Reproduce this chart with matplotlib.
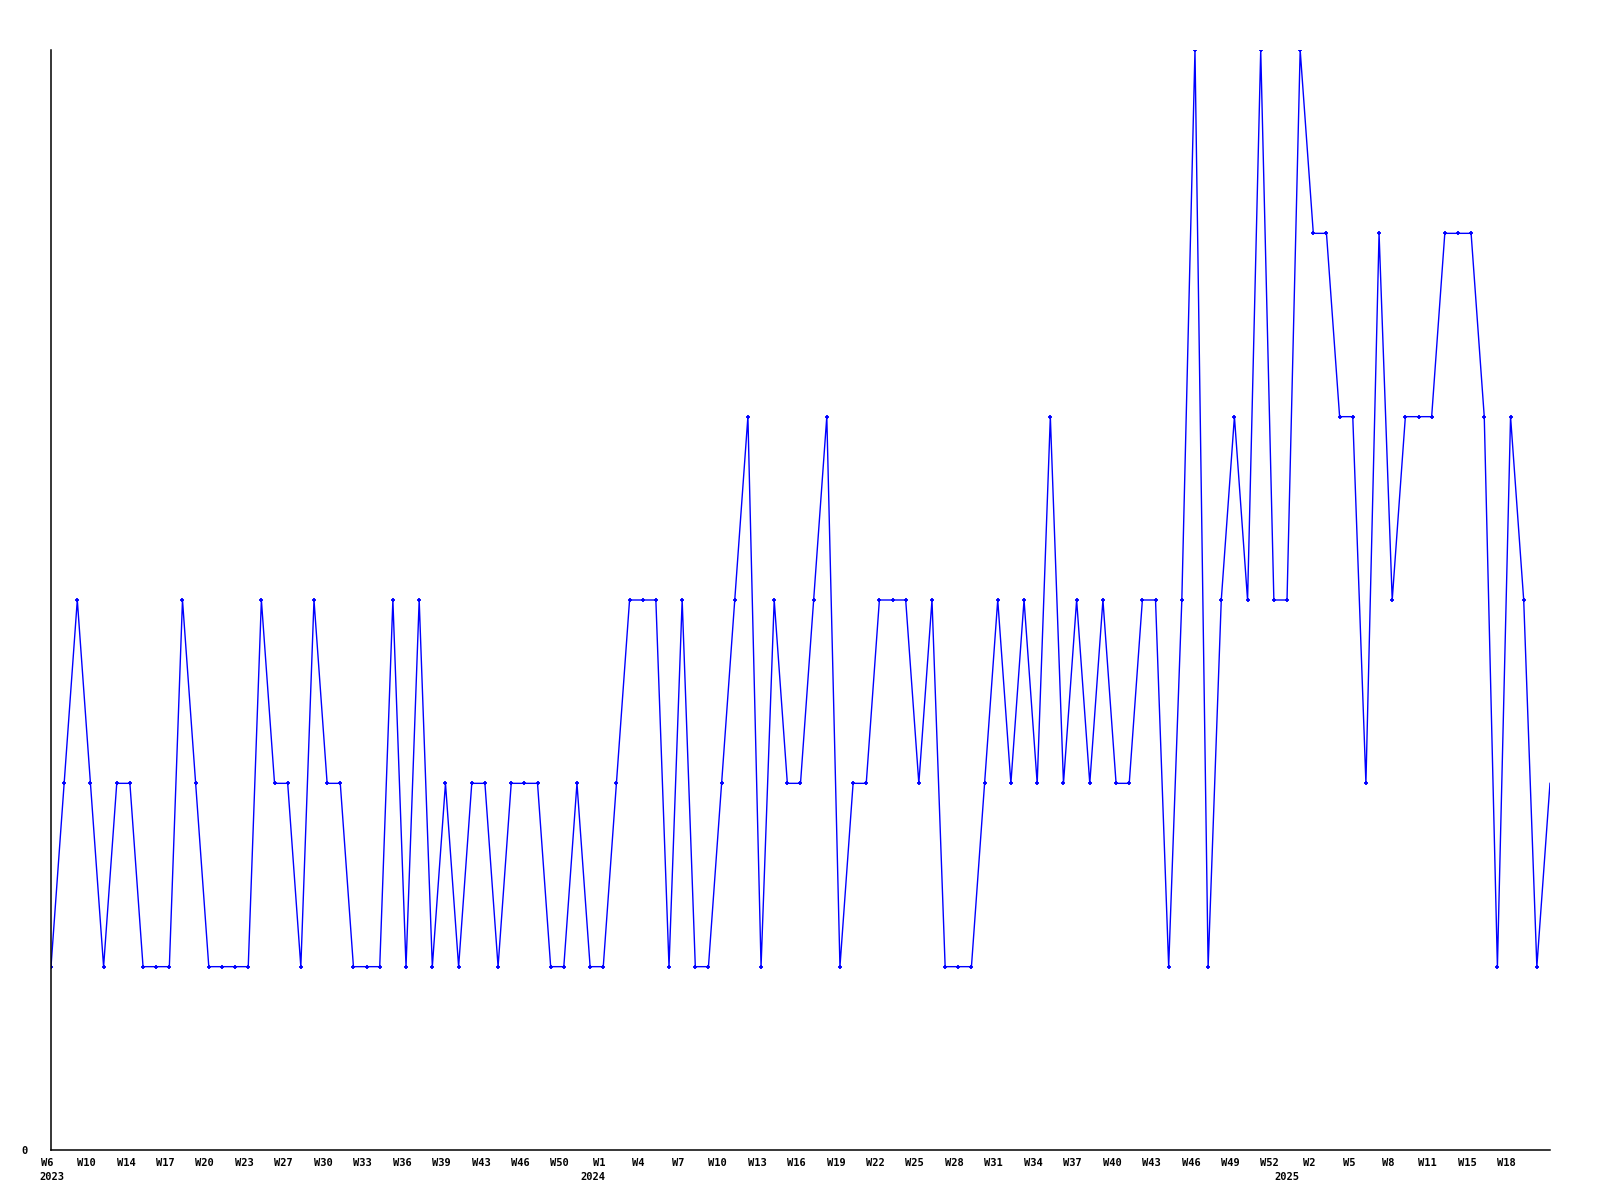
import matplotlib
matplotlib.use("Agg")
import matplotlib.pyplot as plt
import matplotlib.transforms as mtransforms

# valores semanales (W6 2023 -> W21 2025)
valores = [1, 2, 3, 2, 1, 2, 2, 1, 1, 1, 3, 2, 1, 1, 1, 1, 3, 2, 2, 1,
           3, 2, 2, 1, 1, 1, 3, 1, 3, 1, 2, 1, 2, 2, 1, 2, 2, 2, 1, 1,
           2, 1, 1, 2, 3, 3, 3, 1, 3, 1, 1, 2, 3, 4, 1, 3, 2, 2, 3, 4,
           1, 2, 2, 3, 3, 3, 2, 3, 1, 1, 1, 2, 3, 2, 3, 2, 4, 2, 3, 2,
           3, 2, 2, 3, 3, 1, 3, 6, 1, 3, 4, 3, 6, 3, 3, 6, 5, 5, 4, 4,
           2, 5, 3, 4, 4, 4, 5, 5, 5, 4, 1, 4, 3, 1, 2]

etiquetas_semana = ["W6", "W10", "W14", "W17", "W20", "W23", "W27", "W30", "W33",
                    "W36", "W39", "W43", "W46", "W50", "W1", "W4", "W7", "W10",
                    "W13", "W16", "W19", "W22", "W25", "W28", "W31", "W34", "W37",
                    "W40", "W43", "W46", "W49", "W52", "W2", "W5", "W8", "W11",
                    "W15", "W18"]

anios = ["2023", "2024", "2025"]
pos_anios = [0.05, 41.2, 94.0]

x = list(range(len(valores)))
pos_etiquetas = [3 * i for i in range(len(etiquetas_semana))]

fuente = {"family": "DejaVu Sans Mono", "weight": "bold", "size": 7.5}

fig = plt.figure(figsize=(16, 12), dpi=100)
ax = fig.add_axes([51 / 1600, 50 / 1200, 1499 / 1600, 1100 / 1200])

ax.plot(x, valores, color="#0000ff", linewidth=1.0, marker="+",
        markersize=3, markeredgewidth=1.3, markevery=list(range(len(valores) - 1)))

ax.set_xlim(0, len(valores) - 1)
ax.set_ylim(0, 6)

ax.spines["top"].set_visible(False)
ax.spines["right"].set_visible(False)
ax.spines["left"].set_linewidth(1.1)
ax.spines["bottom"].set_linewidth(1.1)

ax.set_xticks(pos_etiquetas)
ax.set_xticklabels(etiquetas_semana, fontdict=fuente)
ax.set_yticks([0])
ax.set_yticklabels(["0"], fontdict=fuente)
ax.tick_params(axis="both", length=0)
ax.tick_params(axis="x", pad=6)
ax.tick_params(axis="y", pad=17)

# las etiquetas del original van un poco a la izquierda de cada punto
desplazamiento = mtransforms.ScaledTranslation(-4 / 100, 0, fig.dpi_scale_trans)
for lbl in ax.get_xticklabels():
    lbl.set_transform(lbl.get_transform() + desplazamiento)

for anio, pos in zip(anios, pos_anios):
    ax.text(pos, -0.145, anio, ha="center", va="center", fontdict=fuente)

fig.savefig("out.png", dpi=100, facecolor="white")
